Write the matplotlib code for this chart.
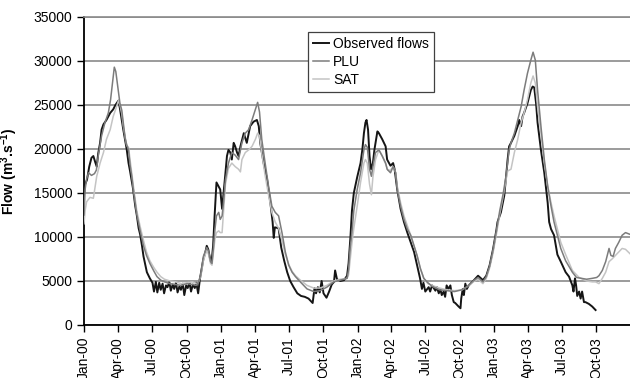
import numpy as np
import matplotlib
matplotlib.use('Agg')
from matplotlib import pyplot as plt
import matplotlib.dates as mdates

plt.rcParams['font.family'] = ['Liberation Sans', 'DejaVu Sans']
plt.rcParams['mathtext.fontset'] = 'custom'
plt.rcParams['mathtext.rm'] = 'Liberation Sans'
plt.rcParams['mathtext.bf'] = 'Liberation Sans:bold'

start = np.datetime64('2000-01-01')

# observed daily flows, digitised as (day since 1 Jan 2000, m3/s)
obs_day = [0, 3, 8, 14, 20, 25, 30, 34, 38, 43, 47, 52, 60, 65, 70, 78, 84, 92, 96, 100,
           105, 114, 119, 123, 131, 137, 141, 146, 150, 155, 159, 168, 176, 183, 187, 192, 196, 201, 205, 210,
           214, 219, 223, 228, 232, 237, 241, 246, 250, 255, 259, 264, 268, 273, 277, 282, 286, 291, 296, 300,
           305, 310, 319, 324, 328, 332, 337, 341, 345, 349, 354, 359, 364, 369, 373, 378, 382, 386, 391, 395,
           400, 404, 409, 413, 418, 427, 435, 444, 453, 462, 467, 471, 480, 489, 498, 504, 507, 510, 520, 527,
           535, 543, 551, 560, 570, 580, 590, 600, 611, 616, 620, 625, 630, 635, 640, 648, 655, 662, 668, 671,
           676, 685, 695, 703, 707, 712, 716, 721, 730, 739, 744, 748, 752, 755, 759, 763, 767, 772, 776, 784,
           788, 797, 806, 810, 819, 826, 830, 837, 846, 855, 864, 873, 882, 890, 898, 903, 907, 912, 921, 925,
           930, 939, 943, 948, 952, 956, 961, 965, 969, 974, 979, 983, 988, 992, 1001, 1006, 1008, 1012, 1015, 1019,
           1023, 1028, 1040, 1053, 1066, 1075, 1084, 1093, 1102, 1105, 1114, 1123, 1128, 1132, 1136, 1141, 1150, 1159, 1163, 1168,
           1172, 1176, 1185, 1194, 1199, 1203, 1208, 1212, 1221, 1230, 1239, 1243, 1248, 1256, 1265, 1274, 1287, 1296, 1305, 1308,
           1312, 1315, 1318, 1323, 1327, 1331, 1336, 1340, 1349, 1358, 1367]
obs_flow = [14800, 16000, 16500, 18000, 19000, 19200, 18500, 18000, 19500, 20700, 22200, 22800, 23300, 23700, 24100, 24500, 25000, 25500, 24600, 23500,
            22200, 20000, 18400, 17500, 15500, 13500, 12500, 11000, 10300, 9000, 7800, 6000, 5300, 4800, 3800, 4900, 3700, 4800, 4000, 4700,
            3600, 4500, 4300, 4900, 3900, 4600, 4100, 4800, 3700, 4400, 4000, 4700, 3400, 4500, 4200, 4800, 3800, 4600, 4200, 4800,
            3600, 5300, 7500, 8200, 9000, 8600, 7500, 7200, 9000, 12400, 16200, 15800, 15400, 13200, 15000, 17300, 19200, 19900, 19600, 18800,
            20700, 20300, 19600, 19200, 20300, 21800, 20700, 22600, 23100, 23300, 22600, 20700, 18400, 16600, 13900, 11700, 9900, 11100, 11000, 8800,
            7300, 6000, 5000, 4300, 3600, 3300, 3200, 3000, 2500, 4200, 3600, 4300, 3700, 5000, 3600, 3100, 3800, 4600, 4900, 6200,
            5200, 5000, 5100, 5600, 7000, 10000, 13000, 15000, 16800, 18400, 20000, 21800, 23000, 23300, 22200, 19200, 17700, 18400, 19900, 22000,
            21800, 21100, 20300, 18800, 18100, 18400, 17700, 15400, 13200, 11700, 10500, 9400, 8300, 6800, 5300, 4100, 4800, 3800, 4300, 3800,
            4500, 3900, 4300, 3600, 4100, 3400, 3800, 3200, 4500, 4100, 4500, 3400, 2600, 2500, 2100, 1900, 3000, 4100, 3400, 4700,
            4100, 4500, 5000, 5600, 5100, 5600, 6800, 8600, 10800, 11700, 12800, 14700, 16900, 18800, 20300, 20700, 21500, 22600, 23300, 22600,
            23700, 24100, 25200, 26700, 27100, 27000, 25200, 23000, 19900, 17300, 13900, 11700, 10900, 10200, 8000, 7200, 6000, 5500, 4500, 3800,
            5300, 4500, 3300, 3800, 3000, 3800, 2600, 2600, 2400, 2100, 1700]

# PLU simulation
plu_day = [0, 3, 7, 12, 20, 28, 33, 38, 47, 56, 65, 71, 76, 81, 85, 88, 92, 96, 101, 105,
           110, 114, 119, 123, 128, 132, 141, 150, 159, 167, 176, 187, 195, 205, 215, 230, 245, 260, 275, 290,
           300, 306, 312, 319, 328, 333, 338, 342, 346, 350, 354, 360, 364, 369, 373, 378, 386, 395, 404, 413,
           422, 431, 440, 449, 458, 464, 469, 475, 484, 493, 502, 511, 520, 529, 538, 547, 556, 565, 578, 596,
           614, 631, 649, 667, 685, 703, 707, 711, 716, 721, 730, 739, 748, 752, 757, 763, 768, 772, 779, 788,
           797, 806, 810, 819, 826, 833, 837, 846, 855, 864, 873, 882, 890, 899, 908, 919, 930, 950, 970, 990,
           1010, 1022, 1040, 1053, 1066, 1075, 1084, 1093, 1102, 1111, 1120, 1128, 1136, 1141, 1150, 1159, 1168, 1176, 1185, 1194,
           1200, 1206, 1212, 1221, 1230, 1239, 1248, 1256, 1265, 1274, 1287, 1305, 1316, 1330, 1343, 1358, 1370, 1376, 1385, 1394,
           1403, 1408, 1414, 1420, 1429, 1438, 1447, 1459]
plu_flow = [12500, 15400, 16600, 17300, 17000, 17200, 17600, 19200, 21500, 23000, 24100, 25600, 27500, 29300, 28800, 27800, 26500, 25200, 24400, 23000,
            21200, 20500, 19900, 18200, 16800, 15300, 12600, 10700, 9000, 7900, 7000, 6100, 5500, 5100, 4900, 4700, 4600, 4500, 4700, 4600,
            4500, 4900, 5700, 7800, 8800, 8400, 7200, 7000, 8800, 10900, 12400, 12800, 12000, 12400, 14000, 16500, 18400, 19600, 19300, 18800,
            20700, 21800, 22200, 23300, 24500, 25300, 24200, 21100, 18400, 15800, 13500, 12800, 12400, 10500, 8300, 6800, 6000, 5500, 4900, 4100,
            3800, 3900, 4300, 4900, 5100, 5300, 6300, 8700, 10500, 13000, 15400, 17300, 19900, 20500, 20200, 17700, 16900, 18000, 19600, 19900,
            19200, 18400, 17700, 17300, 18000, 17300, 15400, 13500, 12000, 10900, 10200, 9000, 7900, 6400, 5300, 4800, 4400, 4000, 3900, 3800,
            4000, 4300, 5000, 5400, 4900, 5500, 6700, 8500, 10700, 13000, 14900, 17000, 19900, 20700, 21800, 23300, 24800, 26700, 28600, 30100,
            31000, 30100, 26700, 22600, 18800, 15800, 13500, 11700, 10200, 8700, 7300, 6000, 5400, 5300, 5200, 5300, 5400, 5600, 6200, 7200,
            8700, 7900, 7800, 8700, 9400, 10200, 10500, 10300]

# SAT simulation
sat_day = [0, 3, 7, 16, 25, 34, 43, 52, 60, 70, 78, 87, 92, 96, 101, 105, 114, 119, 123, 132,
           141, 150, 159, 167, 176, 187, 195, 205, 215, 230, 245, 260, 275, 290, 300, 306, 312, 319, 328, 333,
           338, 342, 346, 350, 354, 360, 364, 369, 373, 378, 386, 395, 404, 413, 418, 422, 431, 440, 449, 458,
           464, 469, 475, 484, 493, 502, 511, 520, 529, 538, 547, 556, 565, 578, 596, 614, 631, 649, 667, 685,
           703, 707, 711, 716, 721, 730, 739, 748, 752, 757, 763, 768, 772, 779, 788, 797, 806, 812, 819, 826,
           833, 837, 846, 855, 864, 873, 882, 890, 899, 908, 919, 930, 950, 970, 990, 1010, 1022, 1040, 1053, 1066,
           1075, 1084, 1093, 1102, 1111, 1120, 1128, 1132, 1141, 1150, 1159, 1168, 1176, 1185, 1194, 1200, 1206, 1212, 1221, 1230,
           1239, 1248, 1256, 1265, 1274, 1288, 1305, 1323, 1343, 1358, 1367, 1376, 1385, 1394, 1403, 1411, 1420, 1429, 1438, 1447,
           1459]
sat_flow = [11500, 13000, 14000, 14500, 14400, 16900, 18400, 19600, 21100, 22200, 23700, 24800, 25500, 25000, 24000, 22600, 20400, 20200, 18800, 15800,
            13000, 11200, 9600, 8300, 7300, 6500, 6000, 5500, 5200, 5000, 4900, 4700, 4800, 4900, 4700, 4900, 5500, 7300, 8500, 8000,
            7000, 6800, 8300, 9800, 10500, 10700, 10500, 10500, 13000, 16000, 17800, 18400, 18000, 17700, 17400, 18800, 19600, 19900, 20300, 21100,
            21800, 21500, 19500, 17000, 14800, 12800, 11700, 11000, 9600, 8000, 6900, 6100, 5600, 5100, 4500, 4200, 4200, 4500, 5000, 5200,
            5300, 5700, 7300, 9300, 11000, 13500, 16200, 18400, 18800, 18400, 16000, 14800, 16800, 18800, 19900, 19200, 18300, 17600, 17600, 18000,
            17300, 15800, 13900, 12400, 11300, 10200, 9000, 7900, 6400, 5300, 4700, 4500, 4200, 4000, 3900, 4000, 4300, 4900, 5200, 4700,
            5300, 6500, 8200, 10300, 12600, 14600, 16500, 17500, 17700, 19600, 21100, 23000, 24100, 25600, 27500, 28300, 27500, 24800, 21800, 18400,
            15800, 13900, 12400, 10900, 9400, 7900, 6200, 5400, 5000, 4900, 4900, 4700, 5300, 6000, 7200, 7500, 7900, 8300, 8700, 8600,
            8100]

def to_dates(days):
    return start + np.array(days).astype('timedelta64[D]')

fig = plt.figure(figsize=(6.3, 3.78), dpi=100)
ax = fig.add_axes([84 / 630, 1 - 325 / 378, 546 / 630, 308 / 378])

l_obs, = ax.plot(to_dates(obs_day), obs_flow, color='#151515', lw=1.4, zorder=3)
l_sat, = ax.plot(to_dates(sat_day), sat_flow, color='#c4c4c4', lw=1.1, zorder=4)
l_plu, = ax.plot(to_dates(plu_day), plu_flow, color='#7c7c7c', lw=1.1, zorder=5)

ax.set_ylim(0, 35000)
ax.set_xlim(start, start + np.timedelta64(1459, 'D'))
ax.set_yticks(np.arange(0, 35001, 5000))
ax.yaxis.grid(True, color='#8a8a8a', lw=1.2)
ax.set_axisbelow(True)

ax.xaxis.set_major_locator(mdates.MonthLocator(bymonth=[1, 4, 7, 10]))
ax.xaxis.set_major_formatter(mdates.DateFormatter('%b-%y'))
plt.setp(ax.get_xticklabels(), rotation=90)
ax.tick_params(axis='both', labelsize=10, length=5, width=1, direction='out', color='black')

for side in ['left', 'bottom']:
    ax.spines[side].set_linewidth(1.3)
    ax.spines[side].set_color('black')
ax.spines['right'].set_visible(False)
ax.spines['top'].set_color('#8a8a8a')
ax.spines['top'].set_linewidth(1.2)

ax.set_ylabel(r'Flow (m$^{\mathbf{3}}$.s$^{\mathbf{-1}}$)', fontsize=10, fontweight='bold')
ax.yaxis.set_label_coords(-0.117, 0.5)

leg = ax.legend([l_obs, l_plu, l_sat], ['Observed flows', 'PLU', 'SAT'],
                loc='upper left', bbox_to_anchor=(0.41, 0.951), borderaxespad=0,
                fontsize=10, frameon=True, fancybox=False, framealpha=1,
                edgecolor='#404040', handlelength=1.2, handletextpad=0.25,
                labelspacing=0.3, borderpad=0.35)
leg.get_frame().set_linewidth(0.9)
leg.set_zorder(10)

plt.savefig('out.png', dpi=100)
